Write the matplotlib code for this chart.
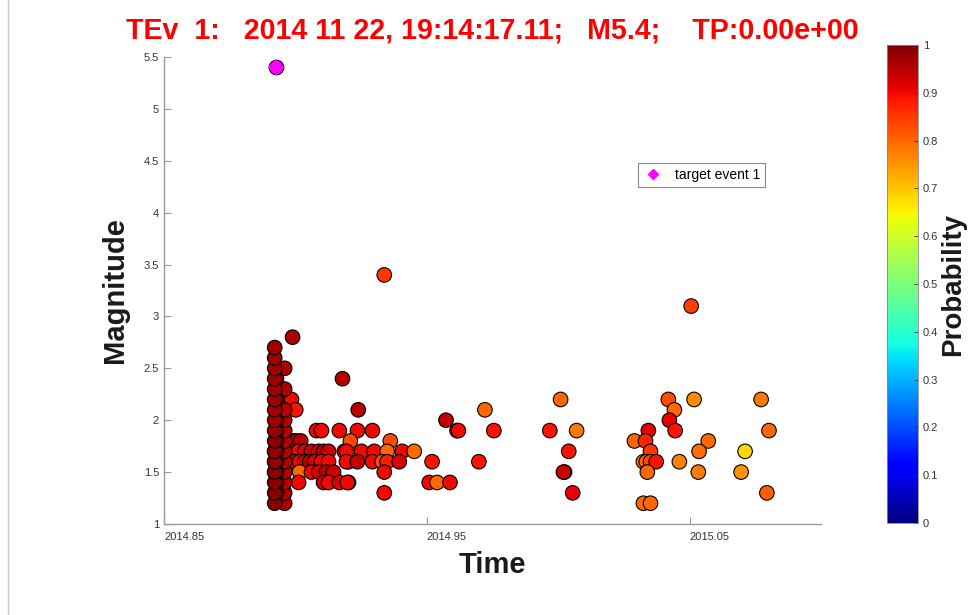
import matplotlib
matplotlib.use("Agg")
import matplotlib.pyplot as plt
from matplotlib.lines import Line2D
import numpy as np

plt.rcParams['font.family'] = ['Liberation Sans', 'DejaVu Sans']

# target event
target_time = 2014.8926
target_mag = 5.4

# dense column right after the target event
colA_time = [2014.8921] * 19
colA_mag = [1.2, 1.3, 1.4, 1.5, 1.5, 1.6, 1.6, 1.7, 1.7, 1.8, 1.9, 2.0, 2.1, 2.2, 2.3, 2.4, 2.5, 2.6, 2.7]
colA_prob = [0.99, 0.99, 0.99, 1.0, 0.99, 1.0, 0.98, 1.0, 0.98, 0.99, 0.98, 0.97, 0.97, 0.97, 0.97, 0.97, 0.97, 0.97, 0.97]

colA2_time = [2014.8928] * 10
colA2_mag = [1.3, 1.4, 1.5, 1.6, 1.7, 1.8, 1.9, 2.0, 2.2, 2.4]
colA2_prob = [0.97, 0.97, 0.98, 0.97, 0.97, 0.97, 0.96, 0.96, 0.96, 0.96]

colB_time = [2014.8959] * 12
colB_mag = [1.2, 1.3, 1.4, 1.5, 1.6, 1.7, 1.8, 1.9, 2.0, 2.1, 2.3, 2.5]
colB_prob = [0.96, 0.96, 0.95, 0.95, 0.95, 0.95, 0.95, 0.95, 0.95, 0.95, 0.96, 0.96]

# remaining events (time, magnitude, probability)
ev_time = [2014.8989, 2014.8985, 2014.9001, 2014.8993, 2014.9004, 2014.9020,
           2014.8966, 2014.8993, 2014.9012, 2014.9035, 2014.9061, 2014.9088, 2014.9107, 2014.9126, 2014.9186,
           2014.8966, 2014.8993, 2014.9016, 2014.9035, 2014.9054, 2014.9073, 2014.9099, 2014.9126, 2014.9202,
           2014.9016, 2014.9061, 2014.9088, 2014.9118, 2014.9145,
           2014.9012, 2014.9107, 2014.9126, 2014.9167, 2014.9202,
           2014.9080, 2014.9099, 2014.9167, 2014.9236, 2014.9293,
           2014.9179, 2014.9239, 2014.9209, 2014.9361,
           2014.9194, 2014.9251, 2014.9300, 2014.9349, 2014.9406, 2014.9452,
           2014.9194, 2014.9236, 2014.9293, 2014.9330, 2014.9349, 2014.9395, 2014.9520,
           2014.9338, 2014.9198, 2014.9509, 2014.9539, 2014.9588, 2014.9338, 2014.9338,
           2014.9573, 2014.9615, 2014.9620, 2014.9721, 2014.9755, 2014.9698,
           2015.0009, 2014.9968, 2015.0070, 2015.0040, 2015.0024, 2015.0020, 2015.0055,
           2015.0419, 2015.0442, 2015.0423, 2015.0445, 2015.0343, 2015.0290, 2015.0332,
           2015.0351, 2015.0324, 2015.0335, 2015.0351, 2015.0373, 2015.0339, 2015.0324, 2015.0351,
           2015.0506, 2015.0517, 2015.0571, 2015.0536, 2015.0461, 2015.0533,
           2015.0696, 2015.0711, 2015.0772, 2015.0802, 2015.0794]
ev_mag = [2.8, 2.2, 2.1, 1.8, 1.8, 1.8,
          1.7, 1.7, 1.7, 1.7, 1.7, 1.7, 1.7, 1.7, 1.7,
          1.6, 1.6, 1.6, 1.6, 1.6, 1.6, 1.6, 1.6, 1.6,
          1.5, 1.5, 1.5, 1.5, 1.5,
          1.4, 1.4, 1.4, 1.4, 1.4,
          1.9, 1.9, 1.9, 1.9, 1.9,
          2.4, 2.1, 1.8, 1.8,
          1.7, 1.7, 1.7, 1.7, 1.7, 1.7,
          1.6, 1.6, 1.6, 1.6, 1.6, 1.6, 1.6,
          1.5, 1.4, 1.4, 1.4, 1.4, 1.3, 3.4,
          2.0, 1.9, 1.9, 2.1, 1.9, 1.6,
          2.2, 1.9, 1.9, 1.7, 1.5, 1.5, 1.3,
          2.2, 2.1, 2.0, 1.9, 1.9, 1.8, 1.8,
          1.7, 1.6, 1.6, 1.6, 1.6, 1.5, 1.2, 1.2,
          3.1, 2.2, 1.8, 1.7, 1.6, 1.5,
          1.5, 1.7, 2.2, 1.9, 1.3]
ev_prob = [0.96, 0.90, 0.89, 0.92, 0.95, 0.95,
           0.93, 0.92, 0.90, 0.92, 0.93, 0.92, 0.95, 0.93, 0.90,
           0.92, 0.93, 0.90, 0.92, 0.95, 0.92, 0.90, 0.90, 0.91,
           0.80, 0.90, 0.92, 0.95, 0.93,
           0.90, 0.92, 0.90, 0.92, 0.90,
           0.90, 0.90, 0.90, 0.90, 0.90,
           0.95, 0.95, 0.83, 0.83,
           0.90, 0.90, 0.90, 0.80, 0.90, 0.80,
           0.90, 0.94, 0.90, 0.83, 0.88, 0.92, 0.89,
           0.90, 0.90, 0.90, 0.80, 0.90, 0.90, 0.85,
           0.94, 0.84, 0.90, 0.80, 0.89, 0.89,
           0.80, 0.89, 0.78, 0.89, 0.93, 0.93, 0.91,
           0.83, 0.80, 0.91, 0.89, 0.91, 0.80, 0.87,
           0.85, 0.78, 0.80, 0.83, 0.89, 0.80, 0.80, 0.80,
           0.84, 0.76, 0.80, 0.79, 0.77, 0.78,
           0.75, 0.68, 0.78, 0.80, 0.81]

times = np.array(ev_time + colB_time + colA2_time + colA_time)
mags = np.array(ev_mag + colB_mag + colA2_mag + colA_mag)
probs = np.array(ev_prob + colB_prob + colA2_prob + colA_prob)

title = "TEv  1:   2014 11 22, 19:14:17.11;   M5.4;    TP:0.00e+00"

fig = plt.figure(figsize=(9.73, 6.15), dpi=100)
ax = fig.add_axes([0.1686, 0.148, 0.6752, 0.7593])
cax = fig.add_axes([0.9116, 0.1496, 0.0319, 0.777])

sc = ax.scatter(times, mags, c=probs, cmap="jet", vmin=0, vmax=1, s=110,
                edgecolors="black", linewidths=0.8, zorder=3)
ax.scatter([target_time], [target_mag], s=110, c="magenta", edgecolors="black",
           linewidths=0.8, zorder=4)
ax.scatter([target_time], [target_mag], s=70, marker="D", c="magenta",
           edgecolors="none", zorder=5)

ax.set_xlim(2014.85, 2015.1)
ax.set_ylim(1, 5.5)
ax.set_xticks([2014.85, 2014.95, 2015.05])
ax.set_xticklabels(["2014.85", "2014.95", "2015.05"], ha="left")
ax.set_yticks(np.arange(1, 5.51, 0.5))
ax.set_yticklabels(["%g" % v for v in np.arange(1, 5.51, 0.5)])
ax.tick_params(direction="in", length=5, width=0.8, colors="#999999",
               labelcolor="#333333", labelsize=8)
ax.tick_params(axis="x", pad=6)
for sp in ["top", "right"]:
    ax.spines[sp].set_visible(False)
for sp in ["left", "bottom"]:
    ax.spines[sp].set_color("#999999")
    ax.spines[sp].set_linewidth(1.0)

ax.set_xlabel("Time", fontsize=21, fontweight="bold", color="#1a1a1a", labelpad=6)
ax.set_ylabel("Magnitude", fontsize=21, fontweight="bold", color="#1a1a1a", labelpad=11)
ax.set_title(title, fontsize=20.6, fontweight="bold", color="red", pad=13)

leg_handle = Line2D([], [], linestyle="none", marker="D", markersize=5,
                    markerfacecolor="magenta", markeredgecolor="magenta")
leg = ax.legend([leg_handle], ["target event 1"], loc="upper left",
                bbox_to_anchor=(0.7215, 0.773), borderaxespad=0, fancybox=False,
                edgecolor="#888888", fontsize=10, handlelength=1.5,
                borderpad=0.35, framealpha=1)
leg.get_frame().set_linewidth(0.8)

cb = fig.colorbar(sc, cax=cax)
cb.set_ticks(np.arange(0, 1.01, 0.1))
cb.set_ticklabels(["%g" % v for v in np.arange(0, 1.01, 0.1)])
cb.ax.tick_params(direction="in", length=3, width=0.6, colors="#333333", labelsize=8)
cb.outline.set_edgecolor("#888888")
cb.outline.set_linewidth(0.6)
cb.set_label("Probability", fontsize=20, fontweight="bold", color="#1a1a1a", labelpad=1)

# thin border line on the left of the image
fig.add_artist(Line2D([0.008, 0.008], [0, 1], color="#cccccc", linewidth=1))

fig.savefig("out.png", dpi=100)
